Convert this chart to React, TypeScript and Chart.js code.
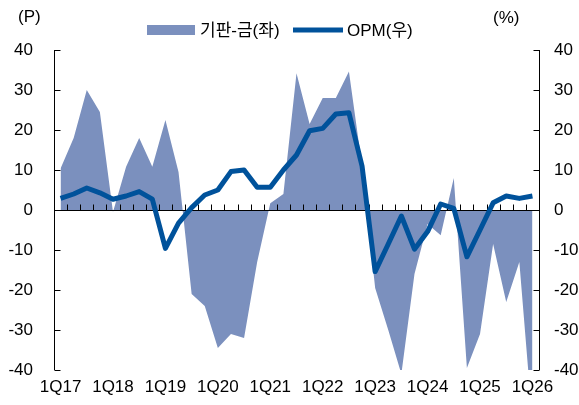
import React, { useEffect, useRef } from "react";
import { Chart, registerables } from "chart.js";
Chart.register(...registerables);

const categories = [
  "1Q17", "2Q17", "3Q17", "4Q17",
  "1Q18", "2Q18", "3Q18", "4Q18",
  "1Q19", "2Q19", "3Q19", "4Q19",
  "1Q20", "2Q20", "3Q20", "4Q20",
  "1Q21", "2Q21", "3Q21", "4Q21",
  "1Q22", "2Q22", "3Q22", "4Q22",
  "1Q23", "2Q23", "3Q23", "4Q23",
  "1Q24", "2Q24", "3Q24", "4Q24",
  "1Q25", "2Q25", "3Q25", "4Q25",
  "1Q26",
];

const spreadValues = [
  10.4, 18, 30, 24.5,
  -0.5, 10.8, 18, 10.8,
  22.5, 9.5, -21, -24,
  -34.5, -31, -32, -13,
  1.7, 4, 34.2, 21.5,
  28, 28, 34.6, 11,
  -19.5, -30, -41, -16,
  -3.5, -6.3, 8, -39.5,
  -31, -8.5, -23, -13,
  -53,
];

const opmValues = [
  2.9, 4, 5.5, 4.3,
  2.7, 3.5, 4.6, 2.7,
  -9.6, -3.3, 0.6, 3.75,
  5, 9.6, 10, 5.7,
  5.7, 10, 13.75, 19.8,
  20.4, 24, 24.3, 11,
  -15.4, -8.5, -1.5, -9.8,
  -5.4, 1.5, 0.4, -11.7,
  -5, 1.8, 3.5, 2.9,
  3.5,
];

const yTicks = [-40, -30, -20, -10, 0, 10, 20, 30, 40];
const seriesNames = ["기판-금(좌)", "OPM(우)"];
const unitLeft = "(P)";
const unitRight = "(%)";

const AREA_COLOR = "#7b90be";
const LINE_COLOR = "#00529b";
const FONT = '"Liberation Sans", Arial, "Noto Sans CJK KR", sans-serif';
const FONT_SIZE = 17;

const axesPlugin = {
  id: "customAxes",
  afterDatasetDraw(chart: any, args: any) {
    if (args.index !== 1) return;
    const { ctx, chartArea } = chart;
    const { left, right, top, bottom } = chartArea;
    const ys = chart.scales.y;
    const xs = chart.scales.x;
    ctx.save();
    ctx.strokeStyle = "#000";
    ctx.lineWidth = 1;
    ctx.beginPath();
    const L = Math.round(left) + 0.5;
    const R = Math.round(right) + 0.5;
    ctx.moveTo(L, top);
    ctx.lineTo(L, bottom);
    ctx.moveTo(R, top);
    ctx.lineTo(R, bottom);
    for (const v of yTicks) {
      const py = Math.round(ys.getPixelForValue(v)) + 0.5;
      ctx.moveTo(L, py);
      ctx.lineTo(L + 6, py);
      ctx.moveTo(R, py);
      ctx.lineTo(R - 6, py);
    }
    const zy = Math.round(ys.getPixelForValue(0)) + 0.5;
    ctx.moveTo(L, zy);
    ctx.lineTo(R, zy);
    for (let i = 1; i < categories.length; i++) {
      const px = Math.round((xs.getPixelForValue(i - 1) + xs.getPixelForValue(i)) / 2) + 0.5;
      ctx.moveTo(px, zy);
      ctx.lineTo(px, zy - 6);
    }
    ctx.stroke();
    ctx.restore();
  },
  afterDraw(chart: any) {
    const { ctx } = chart;
    ctx.save();
    ctx.font = `${FONT_SIZE}px ${FONT}`;
    ctx.fillStyle = "#000";
    ctx.textBaseline = "middle";
    ctx.textAlign = "left";
    ctx.fillText(unitLeft, 18, 17);
    ctx.fillText(unitRight, 493, 18);
    // legend
    ctx.fillStyle = AREA_COLOR;
    ctx.fillRect(147, 25, 48, 10);
    ctx.fillStyle = "#000";
    ctx.fillText(seriesNames[0], 200, 31);
    ctx.strokeStyle = LINE_COLOR;
    ctx.lineWidth = 5;
    ctx.beginPath();
    ctx.moveTo(293, 30);
    ctx.lineTo(343, 30);
    ctx.stroke();
    ctx.fillText(seriesNames[1], 347, 31);
    ctx.restore();
  },
};

export default function App() {
  const ref = useRef<HTMLCanvasElement | null>(null);
  useEffect(() => {
    if (!ref.current) return;
    const chart = new Chart(ref.current, {
      type: "line",
      data: {
        labels: categories,
        datasets: [
          {
            label: seriesNames[1],
            data: opmValues,
            yAxisID: "y1",
            borderColor: LINE_COLOR,
            backgroundColor: LINE_COLOR,
            borderWidth: 5,
            pointRadius: 0,
            tension: 0,
            fill: false,
            order: 0,
            borderJoinStyle: "round",
          },
          {
            label: seriesNames[0],
            data: spreadValues,
            yAxisID: "y",
            borderWidth: 0,
            borderColor: AREA_COLOR,
            backgroundColor: AREA_COLOR,
            pointRadius: 0,
            tension: 0,
            fill: "origin",
            order: 1,
          },
        ],
      },
      options: {
        animation: false,
        responsive: true,
        maintainAspectRatio: false,
        layout: { padding: { top: 50, left: 0, right: 0, bottom: 0 } },
        plugins: { legend: { display: false }, tooltip: { enabled: false } },
        scales: {
          x: {
            type: "category",
            offset: true,
            grid: { display: false, drawTicks: false },
            border: { display: false },
            ticks: {
              autoSkip: false,
              maxRotation: 0,
              minRotation: 0,
              padding: 7,
              color: "#000",
              font: { size: FONT_SIZE, family: FONT },
              callback: (_v: any, i: number) => (i % 4 === 0 ? categories[i] : ""),
            },
            afterFit: (s: any) => {
              s.height = 35;
            },
          },
          y: {
            position: "left",
            min: -40,
            max: 40,
            grid: { display: false, drawTicks: false },
            border: { display: false },
            ticks: {
              stepSize: 10,
              padding: 21,
              color: "#000",
              font: { size: FONT_SIZE, family: FONT },
            },
            afterFit: (s: any) => {
              s.width = 54;
            },
          },
          y1: {
            position: "right",
            min: -40,
            max: 40,
            grid: { display: false, drawTicks: false },
            border: { display: false },
            ticks: {
              stepSize: 10,
              padding: 15,
              color: "#000",
              font: { size: FONT_SIZE, family: FONT },
            },
            afterFit: (s: any) => {
              s.width = 40;
            },
          },
        },
      },
      plugins: [axesPlugin],
    } as any);
    return () => chart.destroy();
  }, []);
  return (
    <div style={{ position: "fixed", left: 0, top: 0, width: 579, height: 405, background: "#fff" }}>
      <canvas ref={ref} />
    </div>
  );
}
